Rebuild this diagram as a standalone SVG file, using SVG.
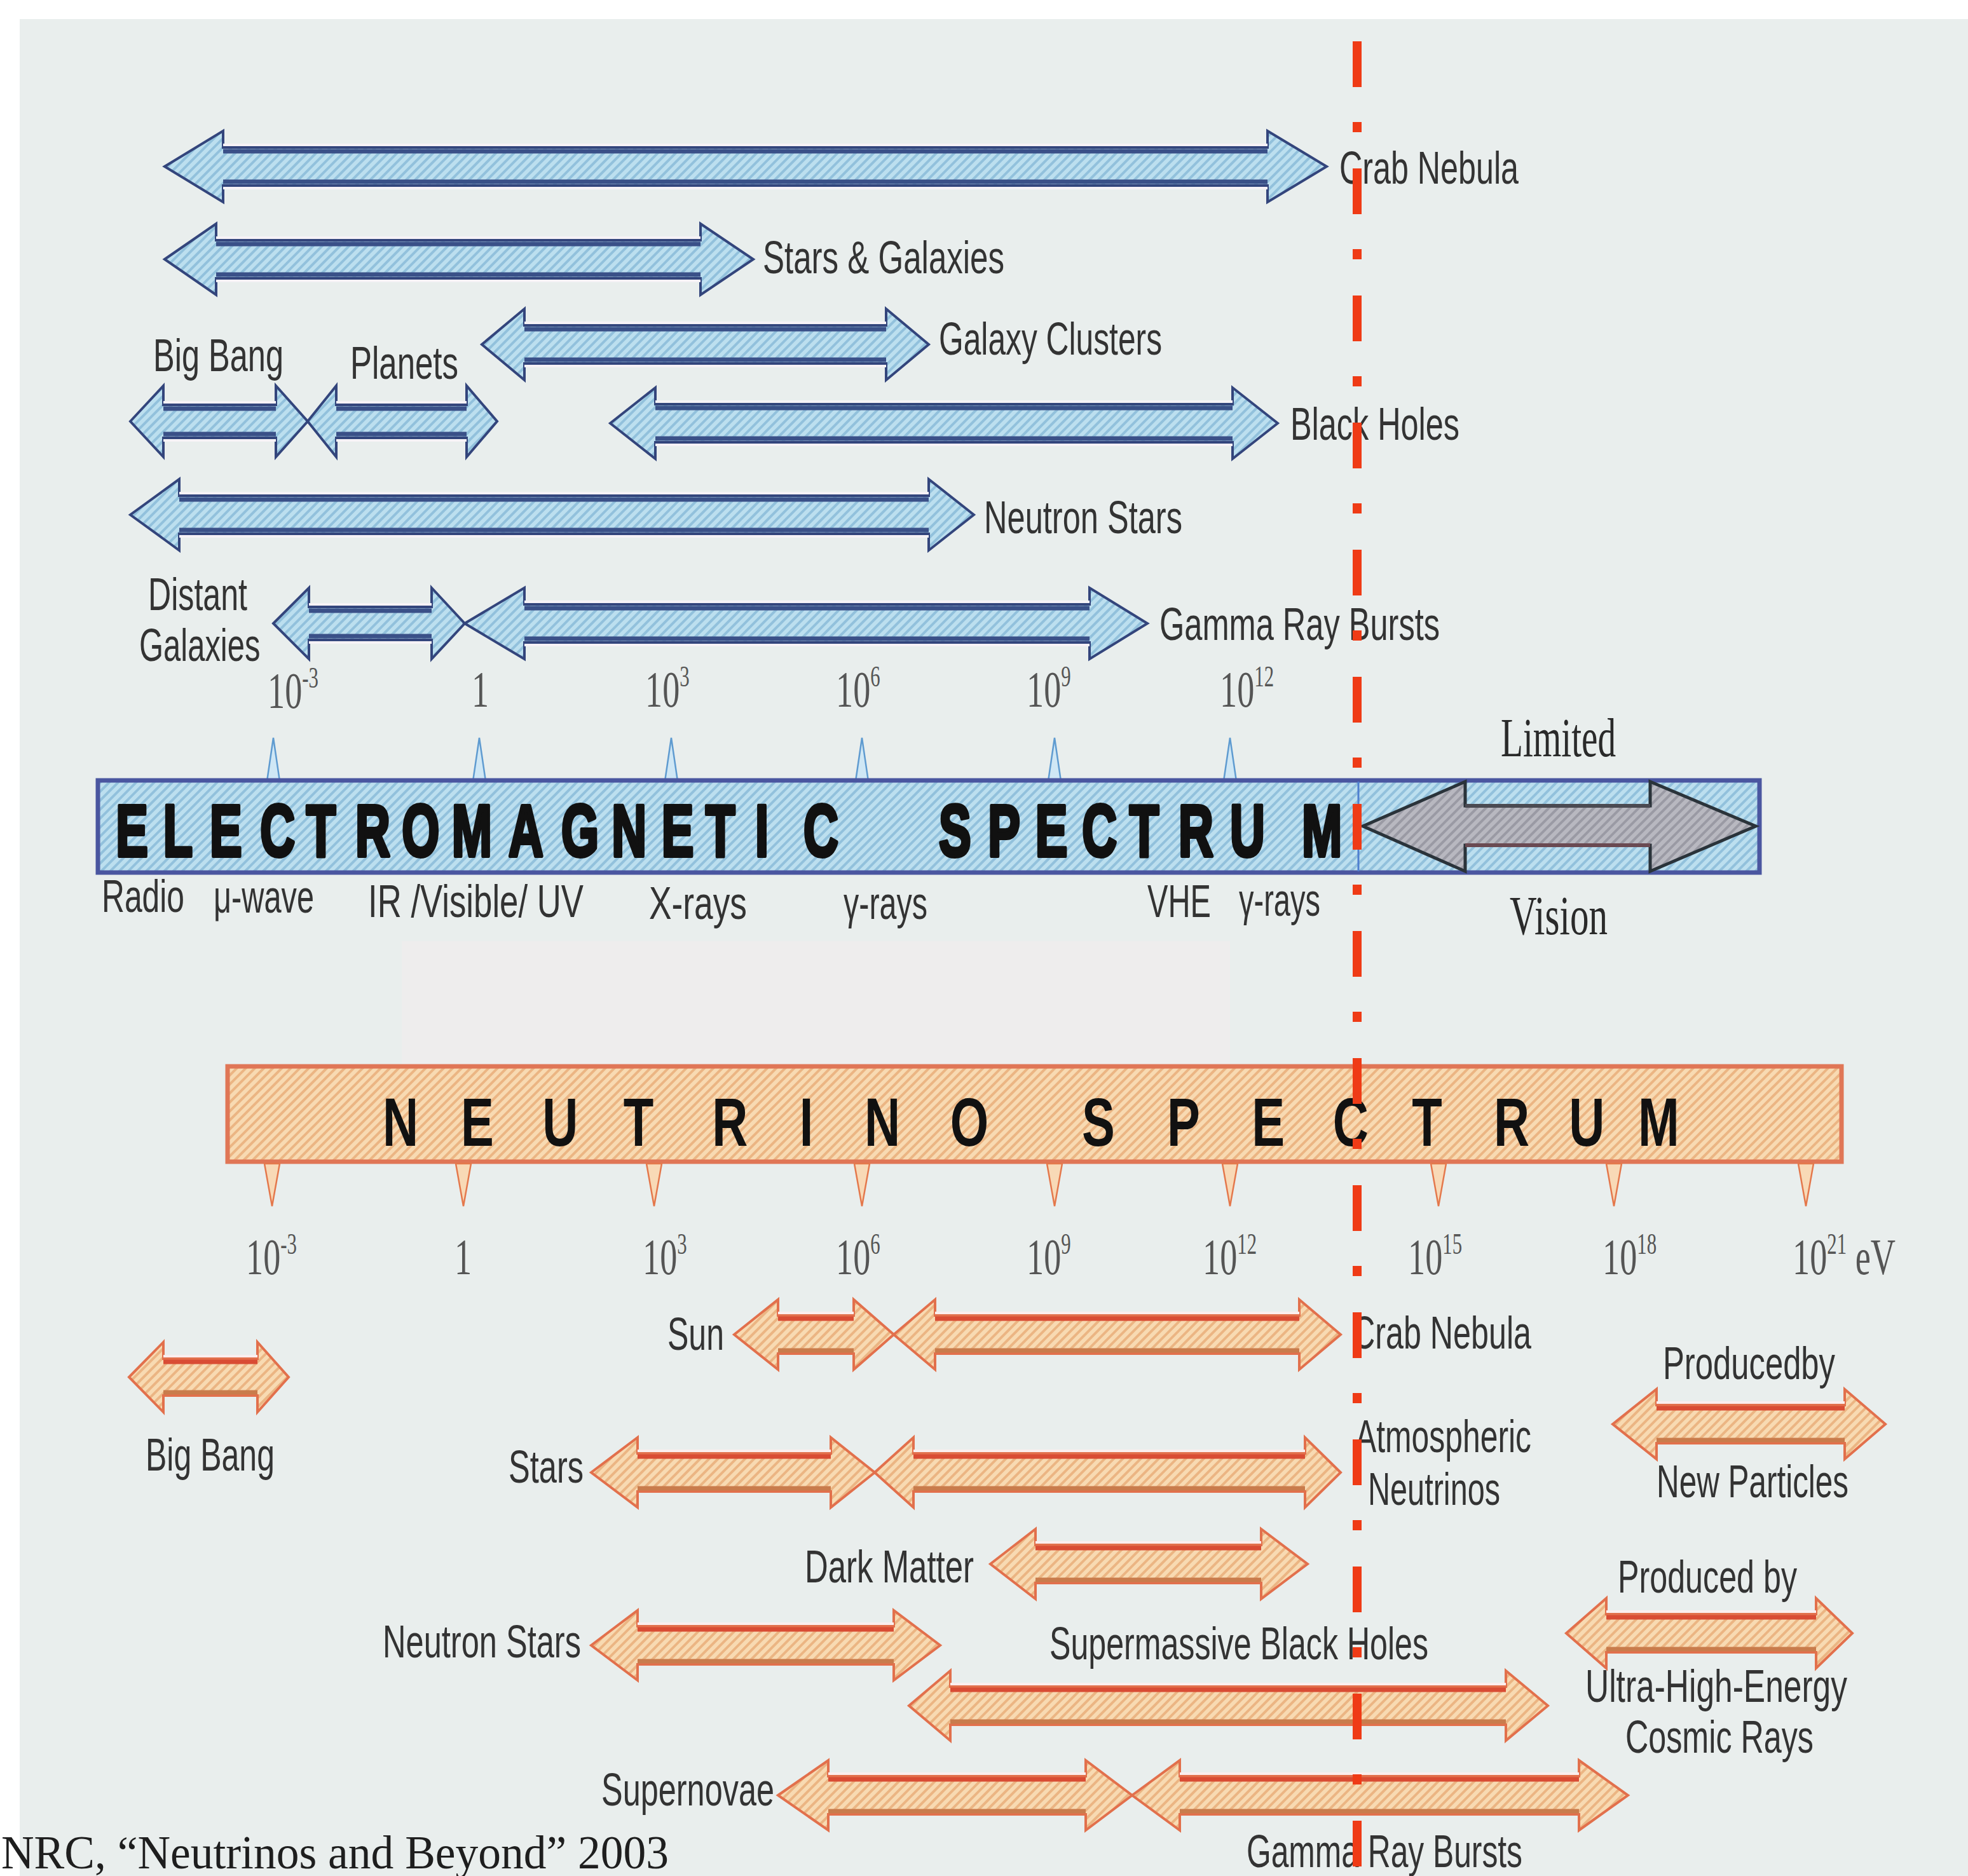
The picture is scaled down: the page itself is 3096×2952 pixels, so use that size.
<svg xmlns="http://www.w3.org/2000/svg" width="3096" height="2952" viewBox="0 0 3096 2952">
<defs>
<pattern id="pb" width="10" height="10" patternUnits="userSpaceOnUse" patternTransform="rotate(45)"><rect width="10" height="10" fill="#bcdfef"/><rect width="4" height="10" fill="#92c1dc"/></pattern>
<pattern id="po" width="10" height="10" patternUnits="userSpaceOnUse" patternTransform="rotate(45)"><rect width="10" height="10" fill="#f8dab2"/><rect width="4" height="10" fill="#ebb583"/></pattern>
<pattern id="pg" width="10" height="10" patternUnits="userSpaceOnUse" patternTransform="rotate(45)"><rect width="10" height="10" fill="#b8b8c0"/><rect width="4" height="10" fill="#9a9aa4"/></pattern>
<style>
.bg{fill:#e9eeed}
.ea{fill:url(#pb);stroke:#33457c;stroke-width:4;stroke-linejoin:miter}
.eb{stroke:#3a5088;stroke-width:7}
.eh{stroke:#f6f2f6;stroke-width:4}
.na{fill:url(#po);stroke:#e2704c;stroke-width:4;stroke-linejoin:miter}
.nt{stroke:#d94c34;stroke-width:7}
.nb{stroke:#c97c4c;stroke-width:7}
.nh{stroke:#fbeeee;stroke-width:4}
.lbl{font-family:"Liberation Sans",Arial,sans-serif;font-size:72px;fill:#333}
.num{font-family:"Liberation Serif","Times New Roman",serif;font-size:81px;fill:#555}
.ser{font-family:"Liberation Serif","Times New Roman",serif;font-size:86px;fill:#2a2a2a}
.sup{font-size:46px}
.etick{fill:#cfe7f5;stroke:#5f9bd0;stroke-width:2.5}
.ntick{fill:#f8d9b6;stroke:#e4784c;stroke-width:2.5}
</style>
</defs>

<rect x="0" y="0" width="3096" height="2952" fill="#ffffff"/>
<rect class="bg" x="31" y="30" width="3065" height="2922"/>
<rect x="632" y="1481" width="1303" height="197" fill="#eeeded"/>

<!-- Electromagnetic spectrum bar -->
<g id="em-bar">
<polygon class="etick" points="420,1229 430,1161 440,1229"/>
<polygon class="etick" points="744,1229 754,1161 764,1229"/>
<polygon class="etick" points="1046,1229 1056,1161 1066,1229"/>
<polygon class="etick" points="1346,1229 1356,1161 1366,1229"/>
<polygon class="etick" points="1649,1229 1659,1161 1669,1229"/>
<polygon class="etick" points="1925,1229 1935,1161 1945,1229"/>
<rect x="154" y="1228" width="2614" height="145" fill="url(#pb)" stroke="#4a56a0" stroke-width="7"/>
<line x1="2137" y1="1230" x2="2137" y2="1371" stroke="#4f7fd0" stroke-width="3"/>
<g transform="scale(0.66,1)">
<text x="276 389 500 620 730 847 958 1077 1212 1338 1458 1577 1682 1800 1915 1990 2238 2355 2468 2579 2692 2809 2932 3103" y="1347" font-family="'Liberation Sans',Arial,sans-serif" font-size="115" font-weight="bold" fill="#111" stroke="#111" stroke-width="6" stroke-linejoin="round">ELECTROMAGNETIC SPECTRUM</text>
</g>
</g>

<g id="limited-vision">
<polygon points="2144,1300 2305,1230 2305,1268 2596,1268 2596,1230 2762,1300 2596,1371 2596,1330 2305,1330 2305,1371" fill="url(#pg)" stroke="#2a333a" stroke-width="5"/>
<line x1="2305" y1="1268" x2="2596" y2="1268" stroke="#4a4a52" stroke-width="6"/>
<line x1="2305" y1="1330" x2="2596" y2="1330" stroke="#6a4a52" stroke-width="6"/>
<text class="ser" x="2361" y="1190" textLength="181" lengthAdjust="spacingAndGlyphs">Limited</text>
<text class="ser" x="2375" y="1470" textLength="154" lengthAdjust="spacingAndGlyphs">Vision</text>
</g>

<g id="em-scale">
<text class="num" transform="translate(421,1114) scale(0.67,1)">10<tspan class="sup" dy="-32">-3</tspan></text>
<text class="num" transform="translate(742,1112) scale(0.67,1)">1</text>
<text class="num" transform="translate(1015,1112) scale(0.67,1)">10<tspan class="sup" dy="-32">3</tspan></text>
<text class="num" transform="translate(1315,1112) scale(0.67,1)">10<tspan class="sup" dy="-32">6</tspan></text>
<text class="num" transform="translate(1615,1112) scale(0.67,1)">10<tspan class="sup" dy="-32">9</tspan></text>
<text class="num" transform="translate(1919,1112) scale(0.67,1)">10<tspan class="sup" dy="-32">12</tspan></text>
</g>

<g id="em-bands">
<text class="lbl" x="160" y="1435" textLength="130" lengthAdjust="spacingAndGlyphs">Radio</text>
<text class="lbl" x="336" y="1436" textLength="158" lengthAdjust="spacingAndGlyphs">μ-wave</text>
<text class="lbl" x="579" y="1443" textLength="339" lengthAdjust="spacingAndGlyphs">IR /Visible/ UV</text>
<text class="lbl" x="1021" y="1446" textLength="154" lengthAdjust="spacingAndGlyphs">X-rays</text>
<text class="lbl" x="1327" y="1446" textLength="132" lengthAdjust="spacingAndGlyphs">γ-rays</text>
<text class="lbl" x="1805" y="1443" textLength="100" lengthAdjust="spacingAndGlyphs">VHE</text>
<text class="lbl" x="1949" y="1441" textLength="128" lengthAdjust="spacingAndGlyphs">γ-rays</text>
</g>

<!-- EM source arrows -->
<g id="em-crab">
<polygon class="ea" points="259,262 351,206 351,232 1994,232 1994,206 2087,262 1994,318 1994,292 351,292 351,318"/>
<line class="eh" x1="351" y1="228" x2="1994" y2="228"/><line class="eb" x1="351" y1="238" x2="1994" y2="238"/><line class="eb" x1="351" y1="286" x2="1994" y2="286"/><line class="eh" x1="351" y1="296" x2="1994" y2="296"/>
<text class="lbl" x="2107" y="289" textLength="282" lengthAdjust="spacingAndGlyphs">Crab Nebula</text>
</g>
<g id="em-stars-galaxies">
<polygon class="ea" points="259,408 340,352 340,378 1102,378 1102,352 1185,408 1102,464 1102,438 340,438 340,464"/>
<line class="eh" x1="340" y1="374" x2="1102" y2="374"/><line class="eb" x1="340" y1="384" x2="1102" y2="384"/><line class="eb" x1="340" y1="432" x2="1102" y2="432"/><line class="eh" x1="340" y1="442" x2="1102" y2="442"/>
<text class="lbl" x="1200" y="430" textLength="380" lengthAdjust="spacingAndGlyphs">Stars &amp; Galaxies</text>
</g>
<g id="em-galaxy-clusters">
<polygon class="ea" points="758,542 825,486 825,512 1394,512 1394,486 1461,542 1394,598 1394,572 825,572 825,598"/>
<line class="eh" x1="825" y1="508" x2="1394" y2="508"/><line class="eb" x1="825" y1="518" x2="1394" y2="518"/><line class="eb" x1="825" y1="566" x2="1394" y2="566"/><line class="eh" x1="825" y1="576" x2="1394" y2="576"/>
<text class="lbl" x="1477" y="558" textLength="351" lengthAdjust="spacingAndGlyphs">Galaxy Clusters</text>
</g>
<g id="em-big-bang">
<polygon class="ea" points="205,663 257,607 257,637 434,637 434,607 484,663 434,719 434,689 257,689 257,719"/>
<line class="eh" x1="257" y1="633" x2="434" y2="633"/><line class="eb" x1="257" y1="643" x2="434" y2="643"/><line class="eb" x1="257" y1="683" x2="434" y2="683"/><line class="eh" x1="257" y1="693" x2="434" y2="693"/>
<text class="lbl" x="241" y="584" textLength="205" lengthAdjust="spacingAndGlyphs">Big Bang</text>
</g>
<g id="em-planets">
<polygon class="ea" points="484,663 529,607 529,637 734,637 734,607 782,663 734,719 734,689 529,689 529,719"/>
<line class="eh" x1="529" y1="633" x2="734" y2="633"/><line class="eb" x1="529" y1="643" x2="734" y2="643"/><line class="eb" x1="529" y1="683" x2="734" y2="683"/><line class="eh" x1="529" y1="693" x2="734" y2="693"/>
<text class="lbl" x="551" y="596" textLength="170" lengthAdjust="spacingAndGlyphs">Planets</text>
</g>
<g id="em-black-holes">
<polygon class="ea" points="960,666 1031,610 1031,636 1939,636 1939,610 2010,666 1939,722 1939,696 1031,696 1031,722"/>
<line class="eh" x1="1031" y1="632" x2="1939" y2="632"/><line class="eb" x1="1031" y1="642" x2="1939" y2="642"/><line class="eb" x1="1031" y1="690" x2="1939" y2="690"/><line class="eh" x1="1031" y1="700" x2="1939" y2="700"/>
<text class="lbl" x="2030" y="692" textLength="266" lengthAdjust="spacingAndGlyphs">Black Holes</text>
</g>
<g id="em-neutron-stars">
<polygon class="ea" points="205,810 282,754 282,780 1461,780 1461,754 1532,810 1461,866 1461,840 282,840 282,866"/>
<line class="eh" x1="282" y1="776" x2="1461" y2="776"/><line class="eb" x1="282" y1="786" x2="1461" y2="786"/><line class="eb" x1="282" y1="834" x2="1461" y2="834"/><line class="eh" x1="282" y1="844" x2="1461" y2="844"/>
<text class="lbl" x="1548" y="839" textLength="312" lengthAdjust="spacingAndGlyphs">Neutron Stars</text>
</g>
<g id="em-distant-galaxies">
<polygon class="ea" points="430,981 486,925 486,955 679,955 679,925 731,981 679,1037 679,1007 486,1007 486,1037"/>
<line class="eh" x1="486" y1="951" x2="679" y2="951"/><line class="eb" x1="486" y1="961" x2="679" y2="961"/><line class="eb" x1="486" y1="1001" x2="679" y2="1001"/><line class="eh" x1="486" y1="1011" x2="679" y2="1011"/>
<text class="lbl" x="233" y="960" textLength="156" lengthAdjust="spacingAndGlyphs">Distant</text>
<text class="lbl" transform="translate(219,1040) scale(0.68,1)">Galaxies</text>
</g>
<g id="em-gamma-ray-bursts">
<polygon class="ea" points="731,981 825,925 825,951 1714,951 1714,925 1805,981 1714,1037 1714,1011 825,1011 825,1037"/>
<line class="eh" x1="825" y1="947" x2="1714" y2="947"/><line class="eb" x1="825" y1="957" x2="1714" y2="957"/><line class="eb" x1="825" y1="1005" x2="1714" y2="1005"/><line class="eh" x1="825" y1="1015" x2="1714" y2="1015"/>
<text class="lbl" x="1824" y="1007" textLength="441" lengthAdjust="spacingAndGlyphs">Gamma Ray Bursts</text>
</g>

<!-- Neutrino spectrum bar -->
<g id="nu-bar">
<rect x="358" y="1678" width="2539" height="150" fill="url(#po)" stroke="#e07656" stroke-width="7"/>
<polygon class="ntick" points="416,1831 428,1898 440,1831"/>
<polygon class="ntick" points="717,1831 729,1898 741,1831"/>
<polygon class="ntick" points="1017,1831 1029,1898 1041,1831"/>
<polygon class="ntick" points="1344,1831 1356,1898 1368,1831"/>
<polygon class="ntick" points="1647,1831 1659,1898 1671,1831"/>
<polygon class="ntick" points="1923,1831 1935,1898 1947,1831"/>
<polygon class="ntick" points="2251,1831 2263,1898 2275,1831"/>
<polygon class="ntick" points="2527,1831 2539,1898 2551,1831"/>
<polygon class="ntick" points="2829,1831 2841,1898 2853,1831"/>
<g transform="scale(0.72,1)">
<text x="836 1007 1185 1362 1556 1747 1889 2076 2222 2364 2550 2735 2912 3085 3264 3428 3579" y="1803" font-family="'Liberation Sans',Arial,sans-serif" font-size="108" font-weight="bold" fill="#111">NEUTRINO SPECTRUM</text>
</g>
</g>

<g id="nu-scale">
<text class="num" transform="translate(387,2005) scale(0.67,1)">10<tspan class="sup" dy="-32">-3</tspan></text>
<text class="num" transform="translate(715,2005) scale(0.67,1)">1</text>
<text class="num" transform="translate(1011,2005) scale(0.67,1)">10<tspan class="sup" dy="-32">3</tspan></text>
<text class="num" transform="translate(1315,2005) scale(0.67,1)">10<tspan class="sup" dy="-32">6</tspan></text>
<text class="num" transform="translate(1615,2005) scale(0.67,1)">10<tspan class="sup" dy="-32">9</tspan></text>
<text class="num" transform="translate(1892,2005) scale(0.67,1)">10<tspan class="sup" dy="-32">12</tspan></text>
<text class="num" transform="translate(2215,2005) scale(0.67,1)">10<tspan class="sup" dy="-32">15</tspan></text>
<text class="num" transform="translate(2521,2005) scale(0.67,1)">10<tspan class="sup" dy="-32">18</tspan></text>
<text class="num" transform="translate(2820,2005) scale(0.67,1)">10<tspan class="sup" dy="-32">21</tspan><tspan dy="32"> eV</tspan></text>
</g>

<!-- Neutrino source arrows -->
<g id="nu-sun">
<polygon class="na" points="1155,2100 1224,2045 1224,2070 1343,2070 1343,2045 1406,2100 1343,2155 1343,2130 1224,2130 1224,2155"/>
<line class="nh" x1="1224" y1="2066" x2="1343" y2="2066"/><line class="nt" x1="1224" y1="2075" x2="1343" y2="2075"/><line class="nb" x1="1224" y1="2125" x2="1343" y2="2125"/>
<text class="lbl" x="1050" y="2124" textLength="89" lengthAdjust="spacingAndGlyphs">Sun</text>
</g>
<g id="nu-crab">
<polygon class="na" points="1406,2100 1471,2045 1471,2070 2044,2070 2044,2045 2109,2100 2044,2155 2044,2130 1471,2130 1471,2155"/>
<line class="nh" x1="1471" y1="2066" x2="2044" y2="2066"/><line class="nt" x1="1471" y1="2075" x2="2044" y2="2075"/><line class="nb" x1="1471" y1="2125" x2="2044" y2="2125"/>
<text class="lbl" x="2127" y="2122" textLength="282" lengthAdjust="spacingAndGlyphs">Crab Nebula</text>
</g>
<g id="nu-big-bang">
<polygon class="na" points="203,2167 257,2112 257,2138 405,2138 405,2112 454,2167 405,2222 405,2196 257,2196 257,2222"/>
<line class="nh" x1="257" y1="2134" x2="405" y2="2134"/><line class="nt" x1="257" y1="2143" x2="405" y2="2143"/><line class="nb" x1="257" y1="2191" x2="405" y2="2191"/>
<text class="lbl" x="229" y="2314" textLength="203" lengthAdjust="spacingAndGlyphs">Big Bang</text>
</g>
<g id="nu-new-particles">
<polygon class="na" points="2537,2241 2606,2186 2606,2211 2902,2211 2902,2186 2966,2241 2902,2296 2902,2271 2606,2271 2606,2296"/>
<line class="nh" x1="2606" y1="2207" x2="2902" y2="2207"/><line class="nt" x1="2606" y1="2216" x2="2902" y2="2216"/><line class="nb" x1="2606" y1="2266" x2="2902" y2="2266"/>
<text class="lbl" x="2616" y="2170" textLength="271" lengthAdjust="spacingAndGlyphs">Producedby</text>
<text class="lbl" x="2606" y="2356" textLength="302" lengthAdjust="spacingAndGlyphs">New Particles</text>
</g>
<g id="nu-stars">
<polygon class="na" points="930,2317 1003,2262 1003,2287 1307,2287 1307,2262 1376,2317 1307,2372 1307,2347 1003,2347 1003,2372"/>
<line class="nh" x1="1003" y1="2283" x2="1307" y2="2283"/><line class="nt" x1="1003" y1="2292" x2="1307" y2="2292"/><line class="nb" x1="1003" y1="2342" x2="1307" y2="2342"/>
<text class="lbl" x="800" y="2333" textLength="118" lengthAdjust="spacingAndGlyphs">Stars</text>
</g>
<g id="nu-atmospheric">
<polygon class="na" points="1376,2317 1437,2262 1437,2287 2053,2287 2053,2262 2109,2317 2053,2372 2053,2347 1437,2347 1437,2372"/>
<line class="nh" x1="1437" y1="2283" x2="2053" y2="2283"/><line class="nt" x1="1437" y1="2292" x2="2053" y2="2292"/><line class="nb" x1="1437" y1="2342" x2="2053" y2="2342"/>
<text class="lbl" x="2132" y="2285" textLength="277" lengthAdjust="spacingAndGlyphs">Atmospheric</text>
<text class="lbl" x="2152" y="2368" textLength="208" lengthAdjust="spacingAndGlyphs">Neutrinos</text>
</g>
<g id="nu-dark-matter">
<polygon class="na" points="1558,2461 1629,2406 1629,2431 1984,2431 1984,2406 2057,2461 1984,2516 1984,2491 1629,2491 1629,2516"/>
<line class="nh" x1="1629" y1="2427" x2="1984" y2="2427"/><line class="nt" x1="1629" y1="2436" x2="1984" y2="2436"/><line class="nb" x1="1629" y1="2486" x2="1984" y2="2486"/>
<text class="lbl" x="1266" y="2490" textLength="266" lengthAdjust="spacingAndGlyphs">Dark Matter</text>
</g>
<g id="nu-uhecr">
<polygon class="na" points="2464,2570 2527,2515 2527,2540 2857,2540 2857,2515 2914,2570 2857,2625 2857,2600 2527,2600 2527,2625"/>
<line class="nh" x1="2527" y1="2536" x2="2857" y2="2536"/><line class="nt" x1="2527" y1="2545" x2="2857" y2="2545"/><line class="nb" x1="2527" y1="2595" x2="2857" y2="2595"/>
<text class="lbl" x="2545" y="2506" textLength="282" lengthAdjust="spacingAndGlyphs">Produced by</text>
<text class="lbl" x="2494" y="2678" textLength="412" lengthAdjust="spacingAndGlyphs">Ultra-High-Energy</text>
<text class="lbl" x="2557" y="2758" textLength="296" lengthAdjust="spacingAndGlyphs">Cosmic Rays</text>
</g>
<g id="nu-neutron-stars">
<polygon class="na" points="930,2589 1003,2534 1003,2559 1406,2559 1406,2534 1479,2589 1406,2644 1406,2619 1003,2619 1003,2644"/>
<line class="nh" x1="1003" y1="2555" x2="1406" y2="2555"/><line class="nt" x1="1003" y1="2564" x2="1406" y2="2564"/><line class="nb" x1="1003" y1="2614" x2="1406" y2="2614"/>
<text class="lbl" x="602" y="2608" textLength="312" lengthAdjust="spacingAndGlyphs">Neutron Stars</text>
</g>
<g id="nu-smbh">
<polygon class="na" points="1430,2684 1495,2629 1495,2654 2369,2654 2369,2629 2435,2684 2369,2739 2369,2714 1495,2714 1495,2739"/>
<line class="nh" x1="1495" y1="2650" x2="2369" y2="2650"/><line class="nt" x1="1495" y1="2659" x2="2369" y2="2659"/><line class="nb" x1="1495" y1="2709" x2="2369" y2="2709"/>
<text class="lbl" x="1651" y="2611" textLength="596" lengthAdjust="spacingAndGlyphs">Supermassive Black Holes</text>
</g>
<g id="nu-supernovae">
<polygon class="na" points="1224,2825 1303,2770 1303,2795 1708,2795 1708,2770 1781,2825 1708,2880 1708,2855 1303,2855 1303,2880"/>
<line class="nh" x1="1303" y1="2791" x2="1708" y2="2791"/><line class="nt" x1="1303" y1="2800" x2="1708" y2="2800"/><line class="nb" x1="1303" y1="2850" x2="1708" y2="2850"/>
<text class="lbl" x="946" y="2841" textLength="272" lengthAdjust="spacingAndGlyphs">Supernovae</text>
</g>
<g id="nu-gamma-ray-bursts">
<polygon class="na" points="1781,2825 1856,2770 1856,2795 2484,2795 2484,2770 2561,2825 2484,2880 2484,2855 1856,2855 1856,2880"/>
<line class="nh" x1="1856" y1="2791" x2="2484" y2="2791"/><line class="nt" x1="1856" y1="2800" x2="2484" y2="2800"/><line class="nb" x1="1856" y1="2850" x2="2484" y2="2850"/>
<text class="lbl" x="1961" y="2938" textLength="434" lengthAdjust="spacingAndGlyphs">Gamma Ray Bursts</text>
</g>

<g id="citation">
<text x="2" y="2940" font-family="'Liberation Serif','Times New Roman',serif" font-size="74" fill="#1e1e1e" textLength="1050" lengthAdjust="spacingAndGlyphs">NRC, “Neutrinos and Beyond” 2003</text>
</g>

<g id="connectors">
<line x1="2135" y1="65" x2="2135" y2="2952" stroke="#ef3b16" stroke-width="14" stroke-dasharray="72 55 16 57"/>
</g>
</svg>
